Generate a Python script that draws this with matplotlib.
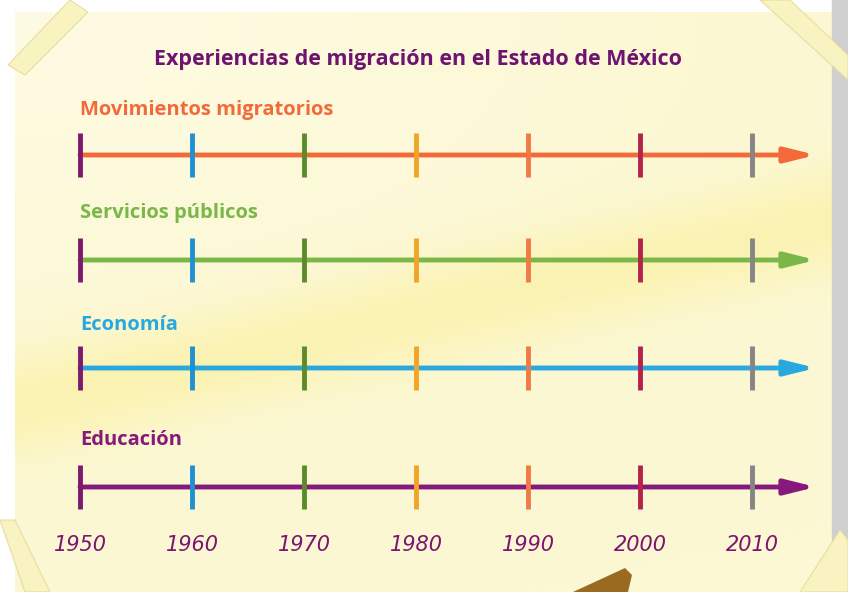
import numpy as np
import matplotlib.pyplot as plt
from matplotlib.patches import Rectangle, Polygon

# data
title = 'Experiencias de migración en el Estado de México'
rows = ['Movimientos migratorios', 'Servicios públicos', 'Economía', 'Educación']
row_colors = ['#f26a3a', '#7ab648', '#29a8e0', '#87197c']
years = [1950, 1960, 1970, 1980, 1990, 2000, 2010]
year_colors = ['#7d1a6e', '#1f90d2', '#5b8c2c', '#f0a428', '#f07a46', '#b3234c', '#858585']
arrow_end = 2015.7

row_y = [155, 260, 368, 487]
label_y = [110, 213, 325, 440]

SC = 11.2  # pixels per year
fig = plt.figure(figsize=(8.48, 5.92), dpi=100)
fig.patch.set_facecolor('white')
ax = fig.add_axes([0, 0, 1, 1])
x0 = 1950 - 80 / SC
x1 = x0 + 848 / SC
ax.set_xlim(x0, x1)
ax.set_ylim(592, 0)
ax.axis('off')


def px(p):
    return x0 + p / SC


# paper background with a soft diagonal band
gx, gy = np.meshgrid(np.linspace(0, 1, 300), np.linspace(0, 1, 200))
d = gy - 0.68 + 0.32 * gx
band = np.exp(-(d / 0.09) ** 2)
glow = np.clip(1 - np.hypot(gx * 1.2, gy * 1.6), 0, 1) * 0.6
base = np.array([252, 248, 212]) / 255
hi = np.array([250, 238, 150]) / 255
white = np.array([255, 253, 238]) / 255
img = (base[None, None, :] * (1 - band[..., None] * 0.55 - glow[..., None])
       + hi[None, None, :] * band[..., None] * 0.55
       + white[None, None, :] * glow[..., None])
img = np.clip(img, 0, 1)
ax.imshow(img, extent=(px(15), px(832), 592, 12), aspect='auto', zorder=0)
# right shadow
ax.add_patch(Rectangle((px(832), 0), 16 / SC, 592, color='#cfcfcf', zorder=0))

# tape corners
tape = '#f8f3c0'
for pts in [[(8, 65), (70, 0), (88, 12), (25, 75)],
            [(760, 0), (790, 0), (848, 55), (848, 80)],
            [(0, 520), (15, 520), (50, 592), (25, 592)],
            [(800, 592), (840, 530), (848, 540), (848, 592)]]:
    ax.add_patch(Polygon([(px(a), b) for a, b in pts], closed=True,
                         facecolor=tape, edgecolor='#e6dfa0', lw=0.8, zorder=1))
# pointer at bottom
ax.add_patch(Polygon([(px(573), 592), (px(625), 568), (px(632), 575), (px(628), 592)],
                     closed=True, facecolor='#9a6a20', edgecolor='none', zorder=1))

ax.text(px(418), 60, title, ha='center', va='center', fontsize=15.5,
        fontweight='bold', color='#6e1470', family='Open Sans')

for name, c, y, ly in zip(rows, row_colors, row_y, label_y):
    ax.text(px(80), ly, name, ha='left', va='center', fontsize=14.5,
            fontweight='bold', color=c, family='Open Sans')
    ax.annotate('', xy=(arrow_end, y), xytext=(years[0], y),
                arrowprops=dict(arrowstyle='-|>,head_length=1.8,head_width=0.45',
                                lw=3.5, color=c, shrinkA=0, shrinkB=0), zorder=3)
    for yr, yc in zip(years, year_colors):
        ax.plot([yr, yr], [y - 22, y + 22], color=yc, lw=3.5,
                solid_capstyle='butt', zorder=4)

for yr in years:
    ax.text(yr, 545, str(yr), ha='center', va='center', fontsize=15,
            style='italic', color='#7d1470', family='DejaVu Sans')

fig.savefig('out.png', dpi=100, facecolor='white')
